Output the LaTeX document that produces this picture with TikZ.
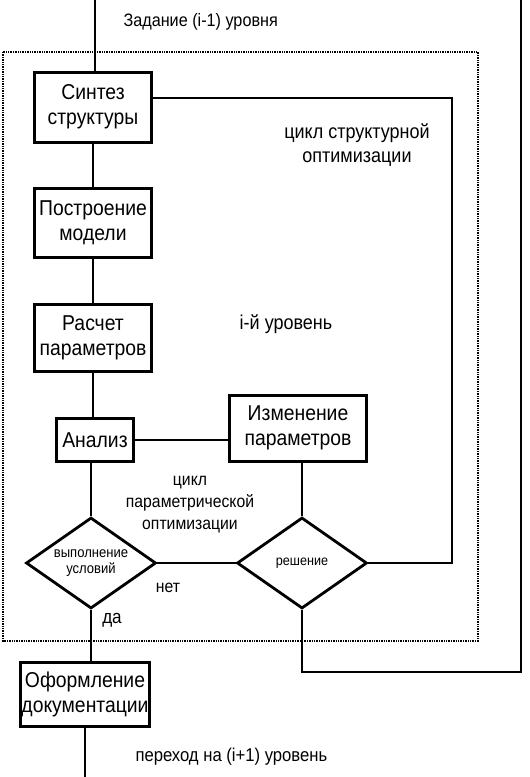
\documentclass[tikz,border=0pt]{standalone}
\usepackage{fontspec}
\setmainfont{Liberation Sans}[FakeStretch=0.9]
\usetikzlibrary{shapes.geometric, positioning}
\tikzset{
	blk/.style  ={rectangle, draw=black, line width=3pt, align=center, inner sep=1pt, font=\fontsize{21.5}{25}\selectfont},
	cond/.style ={diamond, draw=black, line width=2.8pt, aspect=1.4, minimum width=130pt, minimum height=91pt, inner sep=0pt, align=center, font=\fontsize{14.5}{16}\selectfont},
	sig/.style  ={line width=1.4pt},
	lbl/.style  ={align=center, font=\fontsize{20}{24}\selectfont},
	frame/.style={densely dotted, line width=1.4pt},
}
\begin{document}
\begin{tikzpicture}[x=1pt, y=-1pt]
	\useasboundingbox (0,0) rectangle (530,777);
	\draw[frame] (3,52) rectangle (478,641);
	\node[blk, minimum width=117pt, minimum height=70pt] (synth) at (93,107) {Синтез\\структуры};
	\node[blk, minimum width=117pt, minimum height=69pt] (model) at (93,223) {Построение\\модели};
	\node[blk, minimum width=117pt, minimum height=67pt] (calc) at (93,338) {Расчет\\параметров};
	\node[blk, minimum width=77pt, minimum height=43pt] (anal) at (95,440) {Анализ};
	\node[cond] (check) at (91,563) {выполнение\\условий};
	\node[blk, minimum width=122pt, minimum height=64pt] (doc) at (85,694) {Оформление\\документации};
	\node[cond, font=\fontsize{14}{16}\selectfont] (solve) at (302,563) {решение};
	\node[blk, minimum width=137pt, minimum height=66pt] (change) at (298,428) {Изменение\\параметров};
	\coordinate (in) at (95,0);
	\coordinate (out) at (0,777);
	\coordinate (sc) at (452,98);
	\coordinate (rtop) at (521,0);
	\coordinate (rbot) at (521,672);
	% labels
	\node[lbl, font=\fontsize{18}{22}\selectfont, anchor=west] (task) at (120,22) {Задание (i-1) уровня};
	\node[lbl] (scyc) at (357,145) {цикл структурной\\оптимизации};
	\node[lbl] (lvl) at (286,324) {i-й уровень};
	\node[lbl, font=\fontsize{17.5}{22}\selectfont] (pcyc) at (190,505) {цикл\\параметрической\\оптимизации};
	\node[lbl, font=\fontsize{17.5}{20}\selectfont] (no) at (168,588) {нет};
	\node[lbl, font=\fontsize{19}{20}\selectfont] (yes) at (112,620) {да};
	\node[lbl, font=\fontsize{18.5}{22}\selectfont, anchor=west] (next) at (132,757) {переход на (i+1) уровень};
	% connectors
	\draw[sig] (in) -- (anal.north |- synth.north);
	\draw[sig] (synth) -- (model);
	\draw[sig] (model) -- (calc);
	\draw[sig] (calc) -- (calc |- anal.north);
	\draw[sig] (anal.south -| check) -- (check);
	\draw[sig] (check.south) -- (check.south |- doc.north);
	\draw[sig] (doc.south) -- (doc.south |- out);
	\draw[sig] (anal) -- (anal -| change.west);
	\draw[sig] (change.south -| solve) -- (solve);
	\draw[sig] (check) -- (solve);
	\draw[sig] (synth.east |- sc) -- (sc) |- (solve.east);
	\draw[sig] (solve.south) |- (rbot) -- (rtop);
\end{tikzpicture}
\end{document}
